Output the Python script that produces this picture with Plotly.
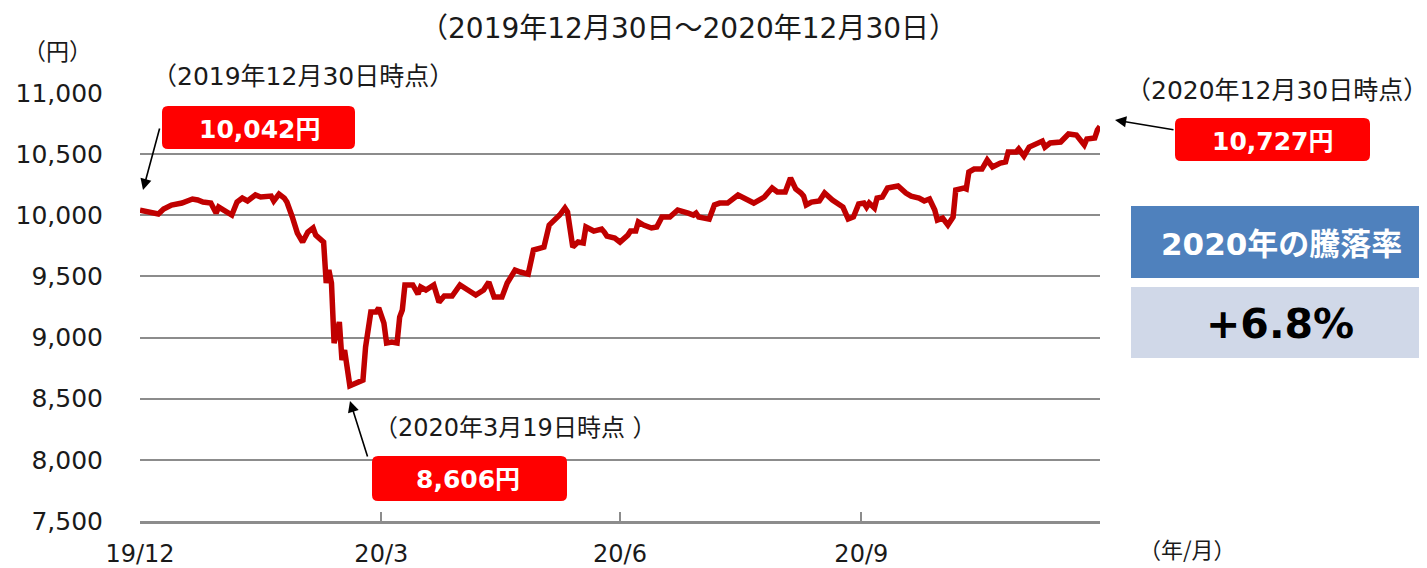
import plotly.graph_objects as go

# ---------------- data ----------------
dates = [
    "2019-12-30", "2020-01-02", "2020-01-06", "2020-01-08", "2020-01-11", "2020-01-15",
    "2020-01-19", "2020-01-21", "2020-01-23", "2020-01-26", "2020-01-28", "2020-01-29",
    "2020-01-31", "2020-02-03", "2020-02-05", "2020-02-07", "2020-02-09", "2020-02-12",
    "2020-02-14", "2020-02-18", "2020-02-19", "2020-02-21", "2020-02-23", "2020-02-24",
    "2020-02-26", "2020-02-28", "2020-03-01", "2020-03-03", "2020-03-05", "2020-03-06",
    "2020-03-09", "2020-03-10", "2020-03-11", "2020-03-12", "2020-03-13", "2020-03-14",
    "2020-03-15", "2020-03-16", "2020-03-17", "2020-03-19", "2020-03-21", "2020-03-24",
    "2020-03-25", "2020-03-27", "2020-03-29", "2020-03-30", "2020-04-01", "2020-04-02",
    "2020-04-04", "2020-04-06", "2020-04-07", "2020-04-08", "2020-04-09", "2020-04-12",
    "2020-04-14", "2020-04-15", "2020-04-17", "2020-04-20", "2020-04-22", "2020-04-24",
    "2020-04-27", "2020-04-30", "2020-05-03", "2020-05-06", "2020-05-09", "2020-05-11",
    "2020-05-13", "2020-05-16", "2020-05-18", "2020-05-21", "2020-05-23", "2020-05-26",
    "2020-05-28", "2020-05-30", "2020-06-01", "2020-06-03", "2020-06-04", "2020-06-07",
    "2020-06-09", "2020-06-10", "2020-06-12", "2020-06-14", "2020-06-16", "2020-06-17",
    "2020-06-20", "2020-06-23", "2020-06-24", "2020-06-25", "2020-06-28", "2020-06-30",
    "2020-07-03", "2020-07-04", "2020-07-06", "2020-07-07", "2020-07-09", "2020-07-12",
    "2020-07-14", "2020-07-16", "2020-07-19", "2020-07-22", "2020-07-26", "2020-07-28",
    "2020-07-29", "2020-07-30", "2020-08-03", "2020-08-05", "2020-08-07", "2020-08-10",
    "2020-08-14", "2020-08-16", "2020-08-17", "2020-08-20", "2020-08-24", "2020-08-27",
    "2020-08-29", "2020-09-01", "2020-09-03", "2020-09-05", "2020-09-07", "2020-09-08",
    "2020-09-09", "2020-09-11", "2020-09-14", "2020-09-16", "2020-09-19", "2020-09-23",
    "2020-09-25", "2020-09-27", "2020-09-29", "2020-10-01", "2020-10-02", "2020-10-03",
    "2020-10-05", "2020-10-06", "2020-10-08", "2020-10-10", "2020-10-12", "2020-10-14",
    "2020-10-17", "2020-10-19", "2020-10-22", "2020-10-24", "2020-10-26", "2020-10-28",
    "2020-10-29", "2020-10-31", "2020-11-02", "2020-11-04", "2020-11-05", "2020-11-08",
    "2020-11-09", "2020-11-10", "2020-11-12", "2020-11-15", "2020-11-17", "2020-11-19",
    "2020-11-22", "2020-11-24", "2020-11-25", "2020-11-28", "2020-11-29", "2020-12-01",
    "2020-12-03", "2020-12-06", "2020-12-08", "2020-12-09", "2020-12-11", "2020-12-15",
    "2020-12-18", "2020-12-21", "2020-12-24", "2020-12-25", "2020-12-28", "2020-12-29",
    "2020-12-30",
]
prices = [
    10042, 10030, 10010, 10051, 10084, 10100,
    10133, 10125, 10108, 10100, 10018, 10067,
    10043, 10002, 10108, 10141, 10117, 10166,
    10149, 10157, 10117, 10174, 10141, 10108,
    9990, 9855, 9781, 9863, 9896, 9838,
    9781, 9446, 9552, 9446, 8955, 9037,
    9127, 8816, 8898, 8606, 8628, 8652,
    8922, 9209, 9209, 9242, 9119, 8955,
    8963, 8955, 9168, 9225, 9430, 9430,
    9356, 9413, 9389, 9430, 9290, 9340,
    9340, 9430, 9389, 9348, 9389, 9454,
    9331, 9331, 9446, 9552, 9536, 9519,
    9716, 9732, 9740, 9920, 9937, 10002,
    10059, 10026, 9740, 9781, 9773, 9904,
    9871, 9888, 9863, 9830, 9814, 9781,
    9838, 9871, 9871, 9945, 9920, 9896,
    9904, 9986, 9986, 10043, 10018, 10002,
    10018, 9986, 9969, 10084, 10100, 10100,
    10166, 10141, 10133, 10100, 10149, 10223,
    10190, 10190, 10305, 10215, 10182, 10157,
    10084, 10108, 10117, 10182, 10125, 10067,
    9969, 9986, 10092, 10100, 10067, 10100,
    10059, 10141, 10149, 10223, 10231, 10239,
    10182, 10157, 10141, 10117, 10133, 10043,
    9961, 9977, 9920, 9986, 10207, 10223,
    10215, 10354, 10378, 10378, 10452, 10395,
    10427, 10436, 10517, 10517, 10542, 10485,
    10558, 10591, 10607, 10558, 10591, 10599,
    10665, 10656, 10575, 10624, 10632, 10697,
    10727,
]

y_tick_values = [7500, 8000, 8500, 9000, 9500, 10000, 10500, 11000]
y_tick_labels = ["7,500", "8,000", "8,500", "9,000", "9,500", "10,000", "10,500", "11,000"]
x_tick_dates = ["2019-12-30", "2020-03-31", "2020-06-30", "2020-09-30"]
x_tick_labels = ["19/12", "20/3", "20/6", "20/9"]

title_text = "（2019年12月30日～2020年12月30日）"
start_note = "（2019年12月30日時点）"
low_note = "（2020年3月19日時点 ）"
end_note = "（2020年12月30日時点）"
start_label = "10,042円"
low_label = "8,606円"
end_label = "10,727円"
rate_title = "2020年の騰落率"
rate_value = "+6.8%"

# ---------------- layout helpers (reference pixel -> paper) ----------------
OFF = 8                       # page body margin of the html page
W, H = 1427 - OFF, 568 - OFF  # figure size so that it fits the window
L, R, T, B = 140, 1100, 93, 521   # plot area in window pixels


def fx(x):
    return (x - L) / (R - L)


def fy(y):
    return (B - y) / (B - T)


def rounded_rect(x0, y0, x1, y1, r):
    pts = [
        f"M {fx(x0 + r)},{fy(y0)}",
        f"L {fx(x1 - r)},{fy(y0)}",
        f"Q {fx(x1)},{fy(y0)} {fx(x1)},{fy(y0 + r)}",
        f"L {fx(x1)},{fy(y1 - r)}",
        f"Q {fx(x1)},{fy(y1)} {fx(x1 - r)},{fy(y1)}",
        f"L {fx(x0 + r)},{fy(y1)}",
        f"Q {fx(x0)},{fy(y1)} {fx(x0)},{fy(y1 - r)}",
        f"L {fx(x0)},{fy(y0 + r)}",
        f"Q {fx(x0)},{fy(y0)} {fx(x0 + r)},{fy(y0)} Z",
    ]
    return " ".join(pts)


MIX = "DejaVu Sans, Noto Sans CJK JP"
JP = "Noto Sans CJK JP"
GRID = "#8c8c8c"
TXT = "#1a1a1a"

fig = go.Figure()
fig.add_trace(go.Scatter(
    x=dates, y=prices, mode="lines",
    line=dict(color="#C00000", width=5.5),
    hoverinfo="x+y", showlegend=False,
))

shapes = []
for (x0, y0, x1, y1) in [(162, 106, 355, 149), (1175, 118, 1370, 161), (372, 456, 567, 501)]:
    shapes.append(dict(type="path", xref="paper", yref="paper",
                       path=rounded_rect(x0, y0, x1, y1, 6),
                       fillcolor="#FF0000", line=dict(width=0), layer="above"))
shapes.append(dict(type="rect", xref="paper", yref="paper",
                   x0=fx(1131), x1=fx(1430), y0=fy(206), y1=fy(278),
                   fillcolor="#4F81BD", line=dict(width=0)))
shapes.append(dict(type="rect", xref="paper", yref="paper",
                   x0=fx(1131), x1=fx(1430), y0=fy(287), y1=fy(358),
                   fillcolor="#D0D8E8", line=dict(width=0)))

ann = []


def text(x, y, s, size, color=TXT, family=MIX, xanchor="center", bold=False):
    if bold:
        s = f"<b>{s}</b>"
    ann.append(dict(x=fx(x), y=fy(y), xref="paper", yref="paper", text=s,
                    showarrow=False, xanchor=xanchor, yanchor="middle",
                    font=dict(size=size, color=color, family=family)))


text(688, 28, title_text, 28)
text(57, 50, "（円）", 23, family=JP)
text(150, 76, start_note, 25, xanchor="left")
text(372, 428, low_note, 24, xanchor="left")
text(1124, 91, end_note, 25, xanchor="left")
text(1187, 548, "（年/月）", 22, family=JP)
text(259, 129, start_label, 25, color="white", bold=True)
text(1272, 141, end_label, 25, color="white", bold=True)
text(468, 479, low_label, 25, color="white", bold=True)
text(1281, 244, rate_title, 31, color="white", bold=True)
text(1280, 324, rate_value, 41, color="black", bold=True)

for (hx, hy, tx, ty) in [(143, 190, 160, 127), (350, 401, 368, 458), (1115, 120, 1175, 130)]:
    ann.append(dict(x=fx(hx), y=fy(hy), xref="paper", yref="paper", text="",
                    showarrow=True, ax=tx - hx, ay=ty - hy, axref="pixel", ayref="pixel",
                    arrowhead=2, arrowsize=1.4, arrowwidth=1.6, arrowcolor="black",
                    standoff=0))

fig.update_layout(
    width=W, height=H, autosize=False,
    margin=dict(l=L - OFF, r=W - (R - OFF), t=T - OFF, b=H - (B - OFF), pad=0),
    paper_bgcolor="white", plot_bgcolor="white",
    shapes=shapes, annotations=ann,
    showlegend=False,
    xaxis=dict(
        type="date", range=["2019-12-30", "2020-12-30"],
        tickmode="array", tickvals=x_tick_dates, ticktext=x_tick_labels,
        ticks="inside", ticklen=9, tickwidth=1.5, tickcolor=GRID,
        showline=True, linecolor=GRID, linewidth=2.5,
        showgrid=False, zeroline=False, automargin=False,
        tickfont=dict(family="DejaVu Sans", size=24, color=TXT),
        ticklabelstandoff=9,
    ),
    yaxis=dict(
        range=[7500, 11000],
        tickmode="array", tickvals=y_tick_values, ticktext=y_tick_labels,
        showgrid=True, gridcolor=GRID, gridwidth=2,
        zeroline=False, showline=False, ticks="", automargin=False,
        tickfont=dict(family="DejaVu Sans", size=25, color=TXT),
        ticklabelstandoff=36,
    ),
)

fig.write_html("out.html")
